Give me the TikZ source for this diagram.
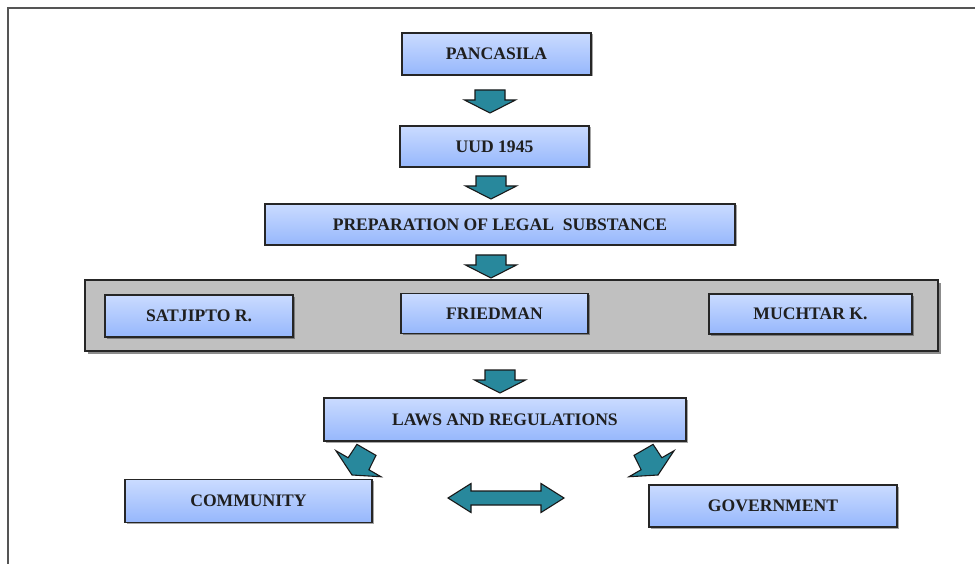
\documentclass[tikz,border=0pt]{standalone}
\usepackage{fontspec}
\setmainfont{Liberation Serif}
\usetikzlibrary{shadows,calc}
\definecolor{boxtop}{RGB}{202,219,255}
\definecolor{boxbot}{RGB}{150,183,252}
\definecolor{arrteal}{RGB}{40,136,156}
\definecolor{panelgray}{RGB}{192,192,192}
\definecolor{framegray}{RGB}{85,85,85}
\begin{document}
\begin{tikzpicture}[x=1pt,y=-1pt,
  box/.style={draw=black!85, line width=1.3pt, top color=boxtop, bottom color=boxbot,
    inner sep=0pt, font=\fontsize{17.6}{20}\selectfont\bfseries, text=black!88,
    drop shadow={shadow xshift=1.5pt, shadow yshift=-1.5pt, fill=black, opacity=0.35}},
  panel/.style={draw=black!85, line width=1.3pt, fill=panelgray, inner sep=0pt,
    drop shadow={shadow xshift=3pt, shadow yshift=-3pt, fill=black, opacity=0.45}},
  barrow/.style={draw=black!90, line width=1.1pt, fill=arrteal, line join=miter},
  frameline/.style={draw=framegray, line width=2.8pt},
  pics/vdown/.style={code={
    \draw[barrow] (0,0) -- (25.5,-13) -- (15,-13) -- (15,-23) -- (-15,-23) -- (-15,-13) -- (-25.5,-13) -- cycle;}},
  pics/darr/.style={code={
    \draw[barrow] (0,0) -- (26,-13) -- (12,-13) -- (11,-29) -- (-11,-29) -- (-12,-13) -- (-26,-13) -- cycle;}}
]
\useasboundingbox (0,0) rectangle (975,564);
\draw[frameline] (8,570) -- (8,8) -- (980,8);

\node[box, minimum width=189pt, minimum height=42pt] (pan) at (496.5,54) {PANCASILA};
\node[box, minimum width=189pt, minimum height=41pt] (uud) at (494.5,146.5) {UUD 1945};
\node[box, minimum width=470pt, minimum height=41pt] (prep) at (500,224.5) {PREPARATION OF LEGAL\ \ SUBSTANCE};

\node[panel, minimum width=853pt, minimum height=71pt] (panel) at (511.5,315.5) {};
\node[box, minimum width=188pt, minimum height=42pt] (sat) at (199,316) {SATJIPTO R.};
\node[box, minimum width=187pt, minimum height=40pt] (fried) at (494.5,313.5) {FRIEDMAN};
\node[box, minimum width=203pt, minimum height=40pt] (much) at (810.5,314) {MUCHTAR K.};

\node[box, minimum width=362pt, minimum height=43pt] (laws) at (505,419.5) {LAWS AND REGULATIONS};
\node[box, minimum width=247pt, minimum height=43pt] (comm) at (248.5,501) {COMMUNITY};
\node[box, minimum width=248pt, minimum height=42pt] (gov) at (773,506) {GOVERNMENT};

\coordinate (t1) at (490,113);
\coordinate (t2) at (491,199);
\coordinate (t3) at (491,278);
\coordinate (t4) at (500,393);
\pic at (t1) {vdown};
\pic at (t2) {vdown};
\pic at (t3) {vdown};
\pic at (t4) {vdown};

\coordinate (tl) at (352,475);
\coordinate (tr) at (658,475);
\pic[rotate=-30] at (tl) {darr};
\pic[rotate=30] at (tr) {darr};

\coordinate (dl) at (448,498);
\coordinate (dr) at (564,498);
\draw[barrow] (dl) -- ++(23,-14.5) -- ++(0,7.5) -- ++(70,0) -- ++(0,-7.5) -- (dr)
  -- ++(-23,14.5) -- ++(0,-7.5) -- ++(-70,0) -- ++(0,7.5) -- cycle;
\end{tikzpicture}
\end{document}
